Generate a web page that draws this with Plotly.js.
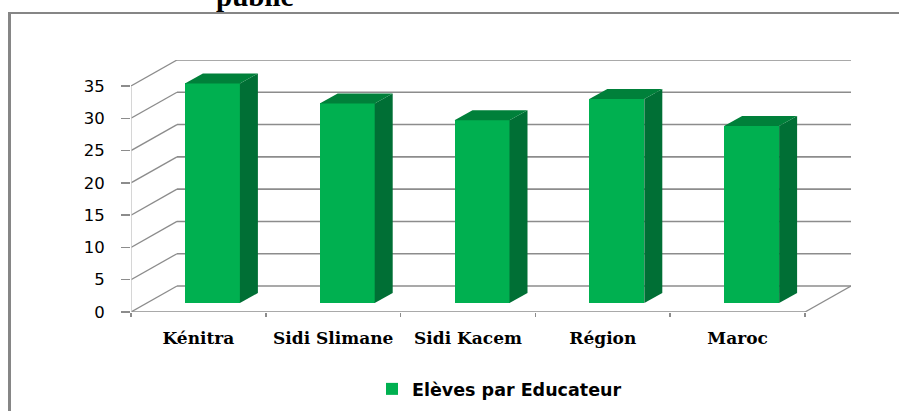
<!DOCTYPE html>
<html><head><meta charset="utf-8">
<script src="https://cdn.plot.ly/plotly-3.0.1.min.js"></script>
<style>html,body{margin:0;padding:0;background:#fff}#c{width:899px;height:411px}</style>
</head><body><div id="c"></div>
<script>
const categories = ["Kénitra","Sidi Slimane","Sidi Kacem","Région","Maroc"];
const values = [34,30.9,28.3,31.6,27.4];
const yTicks = [0,5,10,15,20,25,30,35];
const seriesName = "Elèves par Educateur";

const W=899,H=411, L=131,R=851,T=60,B=312;
const xUnit=134.8, yUnit=226/35;
const wallDx=46/xUnit, wallDy=26/yUnit;       // full chart depth
const barDx=18/xUnit, barDy=10/yUnit;         // bar depth
const floorDx=14/xUnit, floorDy=9/yUnit;      // bar front offset into floor
const barW=55/xUnit;
const xMax=5+wallDx, yMax=35+wallDy;

const cx=categories.map((c,i)=>i+0.5+floorDx);
const traces=[{
  type:'bar', x:cx, y:values, base:values.map(()=>floorDy), width:barW,
  name:seriesName, marker:{color:'#00B050',line:{width:0}}, showlegend:true, hoverinfo:'skip'
}];
categories.forEach((c,i)=>{
  const l=cx[i]-barW/2, r=cx[i]+barW/2, b=floorDy, t=floorDy+values[i];
  traces.push({type:'scatter',mode:'lines',fill:'toself',fillcolor:'#006F35',line:{width:0},showlegend:false,hoverinfo:'skip',
    x:[r,r+barDx,r+barDx,r,r], y:[b,b+barDy,t+barDy,t,b]});
  traces.push({type:'scatter',mode:'lines',fill:'toself',fillcolor:'#00803A',line:{width:0},showlegend:false,hoverinfo:'skip',
    x:[l,l+barDx,r+barDx,r,l], y:[t,t+barDy,t+barDy,t,t]});
});

const gridColor='#8c8c8c';
const shapes=[];
yTicks.forEach(v=>{
  shapes.push({type:'line',layer:'below',xref:'x',yref:'y',x0:0,y0:v,x1:wallDx,y1:v+wallDy,line:{color:gridColor,width:1.3}});
  shapes.push({type:'line',layer:'below',xref:'x',yref:'y',x0:wallDx,y0:v+wallDy,x1:xMax,y1:v+wallDy,line:{color:gridColor,width:1.6}});
});
shapes.push({type:'line',layer:'below',xref:'x',yref:'y',x0:5,y0:0,x1:xMax,y1:wallDy,line:{color:gridColor,width:1.3}});
shapes.push({type:'line',layer:'below',xref:'x',yref:'y',x0:0,y0:0,x1:5,y1:0,line:{color:gridColor,width:1.6}});
shapes.push({type:'line',layer:'below',xref:'x',yref:'y',x0:0,y0:0,x1:0,y1:35,line:{color:'#c8c8c8',width:1.5}});
// outer chart frame: top and left edges only
shapes.push({type:'line',layer:'below',xref:'paper',yref:'paper',x0:(9.5-L)/(R-L),x1:(899-L)/(R-L),y0:(B-13)/(B-T),y1:(B-13)/(B-T),line:{color:'#868686',width:2}});
shapes.push({type:'line',layer:'below',xref:'paper',yref:'paper',x0:(9.5-L)/(R-L),x1:(9.5-L)/(R-L),y0:(B-12)/(B-T),y1:(B-411)/(B-T),line:{color:'#868686',width:3}});

const layout={
  width:W,height:H,paper_bgcolor:'#fff',plot_bgcolor:'rgba(0,0,0,0)',
  margin:{l:L,r:W-R,t:T,b:H-B,pad:0},
  font:{family:'"DejaVu Sans",sans-serif',color:'#000'},
  bargap:0,
  xaxis:{range:[0,xMax],tickmode:'array',tickvals:categories.map((c,i)=>i+0.5),ticktext:categories,
    showgrid:false,zeroline:false,showline:false,ticks:'',ticklen:0,ticklabelstandoff:14,
    tickfont:{family:'"DejaVu Serif",serif',size:17,color:'#000',weight:'bold'},
    minor:{tickmode:'array',tickvals:[0,1,2,3,4,5],ticks:'outside',ticklen:4,tickwidth:1.5,tickcolor:'#8c8c8c',showgrid:false},
    automargin:false,fixedrange:true},
  yaxis:{range:[0,yMax],tickmode:'array',tickvals:yTicks,ticktext:yTicks.map(String),
    showgrid:false,zeroline:false,showline:false,ticks:'outside',ticklen:9,tickwidth:1.5,tickcolor:'#8c8c8c',ticklabelstandoff:13,
    tickfont:{family:'"DejaVu Sans",sans-serif',size:16.5,color:'#000'},automargin:false,fixedrange:true},
  legend:{orientation:'h',x:372/W,y:1-371/H,xref:'container',yref:'container',xanchor:'left',yanchor:'top',
    font:{family:'"DejaVu Sans",sans-serif',size:17.5,color:'#000',weight:'bold'},bgcolor:'rgba(0,0,0,0)'},
  shapes:shapes,
  annotations:[{xref:'paper',yref:'paper',x:(254.5-L)/(R-L),y:(B-14)/(B-T),xanchor:'center',yanchor:'bottom',showarrow:false,
    text:'<b>public</b>',font:{family:'"Liberation Serif",serif',size:29,color:'#000'}}]
};
Plotly.newPlot('c',traces,layout,{displayModeBar:false,staticPlot:true});
</script></body></html>
